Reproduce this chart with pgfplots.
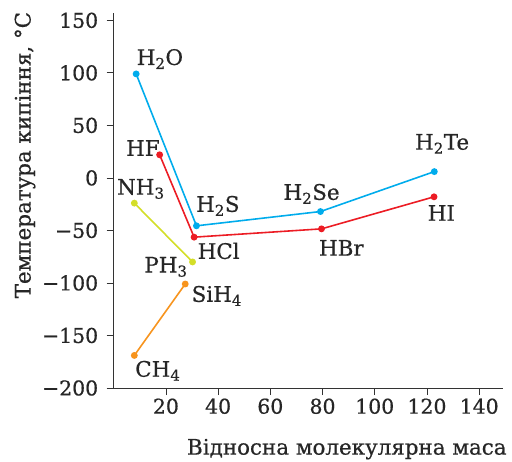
\documentclass[border=0pt]{standalone}
\usepackage{fontspec}
\setmainfont{DejaVu Serif}[FakeBold=0.6]
\usepackage{pgfplots}
\pgfplotsset{compat=1.18}
\definecolor{cblue}{RGB}{0,172,236}
\definecolor{cred}{RGB}{236,28,36}
\definecolor{cyel}{RGB}{212,222,40}
\definecolor{corange}{RGB}{247,148,30}
\newcommand{\lbl}{\fontsize{21.5}{24}\selectfont}
\begin{document}
\begin{tikzpicture}
\useasboundingbox (-113.7bp,-74bp) rectangle (398.3bp,388bp);
\begin{axis}[
  at={(0,0)}, anchor=south west,
  scale only axis, width=389bp, height=375bp,
  xmin=0, xmax=149, ymin=-200, ymax=157,
  axis x line*=bottom, axis y line*=left,
  axis line style={line width=0.8pt, black!80},
  xtick={20,40,60,80,100,120,140},
  ytick={-200,-150,-100,-50,0,50,100,150},
  yticklabels={−200,−150,−100,−50,0,50,100,150},
  tick align=outside, major tick length=7bp,
  tick style={line width=0.8pt, black!80},
  /pgf/number format/assume math mode=true,
  tick label style={font=\fontsize{20.5}{23}\selectfont, text=black!85},
  yticklabel style={xshift=-5bp},
  xlabel={Відносна молекулярна маса},
  ylabel={Температура кипіння, °C},
  label style={font=\lbl, text=black!85},
  x label style={at={(rel axis cs:1.019,-0.163)}, anchor=east},
  y label style={at={(rel axis cs:-0.228,0.621)}, anchor=center, rotate=0},
  clip=false,
  every axis plot/.append style={line width=1.6pt, mark=*, mark size=2.6pt},
]
\addplot[color=cblue, mark options={fill=cblue}] coordinates {(8.6,99) (31.7,-45.6) (79.2,-32) (122.8,6)};
\addplot[color=cred, mark options={fill=cred}] coordinates {(17.6,22) (30.8,-56.4) (79.6,-48.5) (122.7,-18)};
\addplot[color=cyel, mark options={fill=cyel}] coordinates {(7.9,-24) (30.2,-80)};
\addplot[color=corange, mark options={fill=corange}] coordinates {(7.9,-169) (27.4,-101)};
\begin{scope}[every node/.style={font=\lbl, text=black!85}]
\node at (axis cs:17.7,113.2) {H\textsubscript{2}O};
\node at (axis cs:11.2,28.5) {HF};
\node at (axis cs:10.4,-10.5) {NH\textsubscript{3}};
\node at (axis cs:39.9,-26.6) {H\textsubscript{2}S};
\node at (axis cs:40.2,-69.5) {HCl};
\node at (axis cs:20.0,-84.7) {PH\textsubscript{3}};
\node at (axis cs:39.5,-112.3) {SiH\textsubscript{4}};
\node at (axis cs:16.9,-183.6) {CH\textsubscript{4}};
\node at (axis cs:75.8,-15.2) {H\textsubscript{2}Se};
\node at (axis cs:87.2,-66.6) {HBr};
\node at (axis cs:125.8,32.4) {H\textsubscript{2}Te};
\node at (axis cs:125.5,-33.3) {HI};
\end{scope}
\end{axis}
\end{tikzpicture}
\end{document}
